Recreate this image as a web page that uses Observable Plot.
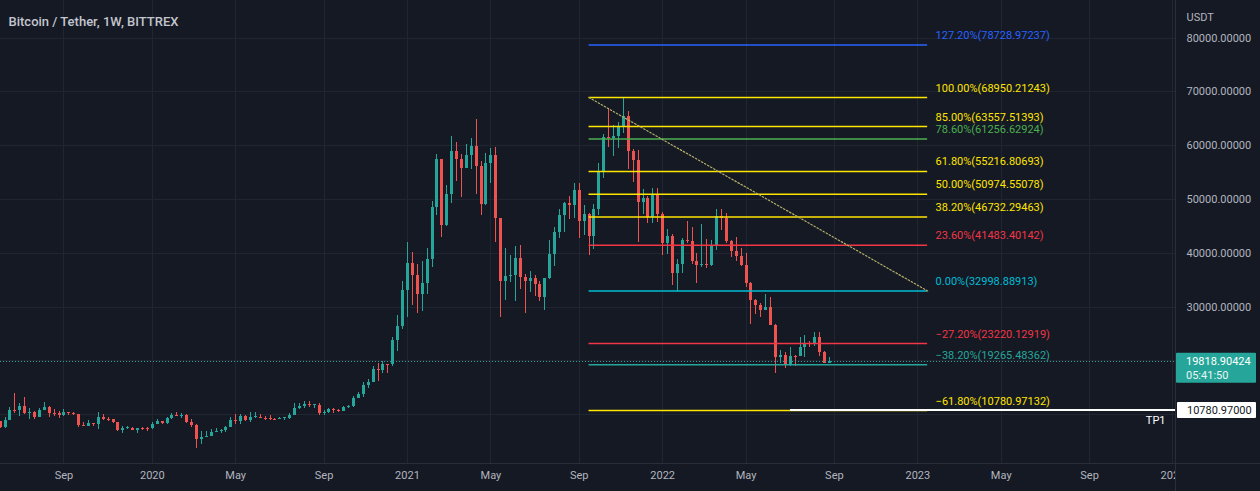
<!DOCTYPE html>
<html>
<head>
<meta charset="utf-8">
<script src="https://cdn.jsdelivr.net/npm/d3@7"></script>
<script src="https://cdn.jsdelivr.net/npm/@observablehq/plot@0.6"></script>
<style>
  html, body { margin: 0; padding: 0; background: #151924; }
  #chart { width: 1260px; height: 491px; overflow: hidden; }
</style>
</head>
<body>
<div id="chart"></div>
<script>
// ---------------- DATA ----------------
const title = "Bitcoin / Tether, 1W, BITTREX";
const quote = "USDT";
const firstWeek = "2019-06-03"; // first weekly bar (Monday)

const opens = [
  8740, 7640, 8980, 10860, 10820, 11460, 10200, 10330, 9500, 10820,
  11400, 10230, 10140, 9760, 10400, 10300, 10030, 8060, 7850, 8290,
  8230, 9550, 9200, 9040, 8500, 7050, 7500, 7520, 7060, 7510,
  7390, 7350, 8180, 8700, 8370, 9380, 9900, 9700, 9760, 8540,
  8030, 5360, 5820, 5880, 6780, 6900, 7120, 7700, 8900, 8720,
  9680, 8900, 9450, 9470, 9330, 9300, 9150, 9070, 9230, 9250,
  9940, 11070, 11590, 11850, 11660, 11710, 10280, 10330, 10940, 10770,
  10670, 11380, 11500, 13030, 13790, 15480, 15980, 18400, 18180, 19360,
  19270, 23740, 26440, 33000, 38150, 35800, 32260, 34300, 38900, 48600,
  57400, 45240, 50970, 59000, 57400, 55800, 58200, 59900, 56150, 49000,
  56600, 58250, 46400, 34700, 35700, 35800, 39000, 35500, 34700, 35300,
  34250, 31800, 35400, 39850, 43800, 47050, 49250, 48900, 51750, 45850,
  47250, 43200, 48200, 54950, 61500, 61300, 61800, 63300, 65500, 59000,
  57250, 49400, 50100, 46700, 50800, 47300, 41850, 43100, 36300, 37900,
  42400, 42200, 38400, 37700, 38000, 37800, 41300, 46800, 46400, 42150,
  40400, 39450, 37650, 34300, 31300, 30280, 29450, 29900, 26600, 20550,
  21030, 19300, 20850, 20800, 22580, 23300, 23180, 24300, 21520, 19550
];
const highs = [
  8800, 9390, 11250, 13880, 12000, 13200, 11100, 10650, 11080, 12330,
  11450, 10950, 10630, 10920, 10450, 10360, 10060, 8520, 8850, 8410,
  10370, 9950, 9500, 9080, 8520, 7850, 7800, 7680, 7520, 7700,
  7630, 8480, 9190, 8760, 9560, 10160, 10500, 10250, 9970, 9180,
  8180, 6900, 6950, 7200, 7470, 7200, 7780, 9460, 10070, 9950,
  9900, 10380, 10430, 10000, 9580, 9800, 9300, 9450, 9280, 10130,
  12000, 12050, 12480, 12480, 11800, 12100, 10800, 11180, 11180, 10950,
  11490, 11730, 13350, 14090, 15970, 16480, 18950, 19480, 19920, 19420,
  24300, 28420, 34800, 42000, 40100, 37850, 38550, 40950, 49700, 58350,
  57500, 52650, 61800, 60600, 58400, 60200, 61300, 64850, 57000, 58500,
  59500, 59600, 46500, 40800, 39500, 41300, 41400, 36000, 36600, 35950,
  34700, 35400, 42450, 44800, 48150, 49400, 50500, 52900, 52950, 48800,
  47350, 49000, 56600, 62000, 67000, 63700, 64300, 68950, 66300, 59300,
  59200, 51950, 50500, 52000, 52100, 47550, 44450, 43500, 38900, 42700,
  45850, 44750, 40000, 45400, 42600, 42300, 48200, 48200, 47450, 42400,
  42900, 40800, 40000, 34500, 31330, 30650, 32400, 31750, 26800, 21850,
  21550, 22500, 21000, 24280, 24700, 23650, 25200, 25200, 21800, 20580
];
const lows = [
  7450, 7510, 8970, 10300, 9650, 10070, 9070, 9110, 9390, 10800,
  9470, 9750, 9320, 9750, 9880, 9840, 7710, 7760, 7790, 7880,
  7300, 8970, 8700, 8350, 6800, 6510, 7160, 7050, 6430, 7150,
  6850, 7340, 8100, 8230, 8250, 9130, 9730, 9300, 8400, 7650,
  3780, 4440, 5690, 5860, 6660, 6460, 6770, 7620, 8100, 8200,
  8800, 8630, 9250, 9230, 8900, 8840, 8950, 9050, 9000, 9040,
  9900, 10950, 11100, 11370, 11130, 9880, 9850, 10200, 10140, 10370,
  10530, 11180, 11400, 12980, 13200, 14800, 15950, 16200, 17600, 17600,
  19000, 21800, 25900, 28100, 30300, 28800, 29200, 32300, 37350, 47000,
  43000, 44950, 49300, 53300, 50400, 55700, 55500, 51000, 47000, 48800,
  53000, 42000, 28000, 31200, 34600, 31000, 33300, 28800, 32700, 32000,
  31000, 29300, 35200, 37500, 42800, 43950, 46250, 46500, 42800, 43400,
  39600, 40750, 47100, 53900, 59600, 58000, 59400, 62300, 55600, 53250,
  42000, 47300, 45500, 45550, 45700, 39650, 39700, 34000, 32900, 36250,
  41750, 38000, 34300, 37450, 37150, 37550, 40500, 44200, 41900, 39200,
  38550, 37600, 33700, 26700, 28630, 28000, 29300, 26550, 17600, 19600,
  18650, 19050, 18900, 20750, 20700, 22400, 22650, 20760, 19530, 19530
];
const closes = [
  7640, 8980, 10860, 10820, 11460, 10200, 10330, 9500, 10820, 11400,
  10230, 10140, 9760, 10400, 10300, 10030, 8060, 7850, 8290, 8230,
  9550, 9200, 9040, 8500, 7050, 7500, 7520, 7060, 7510, 7390,
  7350, 8180, 8700, 8370, 9380, 9900, 9700, 9760, 8540, 8030,
  5360, 5820, 5880, 6780, 6900, 7120, 7700, 8900, 8720, 9680,
  8900, 9450, 9470, 9330, 9300, 9150, 9070, 9230, 9250, 9940,
  11070, 11590, 11850, 11660, 11710, 10280, 10330, 10940, 10770, 10670,
  11380, 11500, 13030, 13790, 15480, 15980, 18400, 18180, 19360, 19270,
  23740, 26440, 33000, 38150, 35800, 32260, 34300, 38900, 48600, 57400,
  45240, 50970, 59000, 57400, 55800, 58200, 59900, 56150, 49000, 56600,
  58250, 46400, 34700, 35700, 35800, 39000, 35500, 34700, 35300, 34250,
  31800, 35400, 39850, 43800, 47050, 49250, 48900, 51750, 45850, 47250,
  43200, 48200, 54950, 61500, 61300, 61800, 63300, 65500, 59000, 57250,
  49400, 50100, 46700, 50800, 47300, 41850, 43100, 36300, 37900, 42400,
  42200, 38400, 37700, 38000, 37800, 41300, 46800, 46400, 42150, 40400,
  39450, 37650, 34300, 31300, 30280, 29450, 29900, 26600, 20550, 21030,
  19300, 20850, 20800, 22580, 23300, 23180, 24300, 21520, 19550, 19818.90424
];

// Fibonacci retracement drawing
const fibStart = "2021-09-20";
const fibEnd = "2023-01-16";
const fibLevels = ["127.20%", "100.00%", "85.00%", "78.60%", "61.80%", "50.00%", "38.20%", "23.60%", "0.00%", "\u221227.20%", "\u221238.20%", "\u221261.80%"];
const fibPrices = [78728.97237, 68950.21243, 63557.51393, 61256.62924, 55216.80693, 50974.55078, 46732.29463, 41483.40142, 32998.88913, 23220.12919, 19265.48362, 10780.97132];
const fibPriceText = ["78728.97237", "68950.21243", "63557.51393", "61256.62924", "55216.80693", "50974.55078", "46732.29463", "41483.40142", "32998.88913", "23220.12919", "19265.48362", "10780.97132"];
const fibColors = ["#2962ff", "#ffe500", "#ffe500", "#4caf50", "#ffe500", "#ffe500", "#ffe500", "#f23645", "#00bcd4", "#f23645", "#26a69a", "#ffe500"];

// TP1 horizontal ray
const tp1Start = "2022-07-04";
const tp1Price = 10780.97;
const tp1Text = "10780.97000";
const tp1Label = "TP1";

// last price
const currentPrice = 19818.90424;
const currentText = "19818.90424";
const countdown = "05:41:50";

// axes
const yTicks = [30000, 40000, 50000, 60000, 70000, 80000];
const gridPrices = [10000, 20000, 30000, 40000, 50000, 60000, 70000, 80000];
const tickDates = ["2019-09-02", "2020-01-06", "2020-05-04", "2020-09-07", "2021-01-04", "2021-05-03", "2021-09-06", "2022-01-03", "2022-05-02", "2022-09-05", "2023-01-02", "2023-05-01", "2023-09-04", "2024-01-01"];
const tickLabels = ["Sep", "2020", "May", "Sep", "2021", "May", "Sep", "2022", "May", "Sep", "2023", "May", "Sep", "2024"];

// ---------------- BUILD ----------------
const W = 1260, H = 491, MR = 85, MB = 28;
const bg = "#151924", gridColor = "#212531", textColor = "#b2b5be";
const upColor = "#26a69a", downColor = "#ef5350";
const font = "Roboto, 'Liberation Sans', sans-serif";

const toDate = s => new Date(s + "T00:00:00Z");
const xDomain = [new Date("2019-06-03T10:48:00Z"), new Date("2024-01-04T14:24:00Z")];
const yDomain = [929, 86990];

const t0 = toDate(firstWeek);
const candles = opens.map((o, i) => ({
  date: d3.utcDay.offset(t0, 7 * i),
  open: o, high: highs[i], low: lows[i], close: closes[i]
}));
const up = candles.filter(d => d.close >= d.open);
const down = candles.filter(d => d.close < d.open);
const minBody = 190; // ~1px minimum body
const bodyEnd = d => Math.abs(d.close - d.open) < minBody ? d.open + (d.close >= d.open ? minBody : -minBody) : d.close;

const fibRows = fibLevels.map((lv, i) => ({
  level: lv, price: fibPrices[i], text: fibPriceText[i], color: fibColors[i],
  start: toDate(fibStart), end: toDate(fibEnd)
}));
const trend = [
  {date: toDate(fibStart), price: fibPrices[1]},
  {date: toDate(fibEnd), price: fibPrices[8]}
];
const tpRows = [{price: tp1Price, start: toDate(tp1Start), end: xDomain[1]}];

const tickDateObjs = tickDates.map(toDate);
const tickLabelMap = new Map(tickDateObjs.map((d, i) => [+d, tickLabels[i]]));

const crisp = {shapeRendering: "crispEdges"};

const plot = Plot.plot({
  width: W, height: H,
  marginLeft: 0, marginRight: MR, marginTop: 0, marginBottom: MB,
  style: {background: bg, color: textColor, fontFamily: font, fontSize: "11px", overflow: "hidden"},
  color: {type: "identity"},
  x: {type: "utc", domain: xDomain, ticks: tickDateObjs, tickFormat: d => tickLabelMap.get(+d), tickSize: 0, tickPadding: 8, label: null},
  y: {domain: yDomain, axis: "right", ticks: yTicks, tickFormat: d3.format(".5f"), tickSize: 0, tickPadding: 11, label: null},
  marks: [
    Plot.ruleY(gridPrices, {stroke: gridColor, ...crisp}),
    Plot.ruleX(tickDateObjs, {stroke: gridColor, ...crisp}),
    // candles
    Plot.ruleX(up, {x: "date", y1: "low", y2: "high", stroke: upColor, strokeWidth: 1, ...crisp}),
    Plot.ruleX(up, {x: "date", y1: "open", y2: bodyEnd, stroke: upColor, strokeWidth: 3, ...crisp}),
    Plot.ruleX(down, {x: "date", y1: "low", y2: "high", stroke: downColor, strokeWidth: 1, ...crisp}),
    Plot.ruleX(down, {x: "date", y1: "open", y2: bodyEnd, stroke: downColor, strokeWidth: 3, ...crisp}),
    // last price line
    Plot.ruleY([currentPrice], {stroke: upColor, strokeDasharray: "1,2", strokeWidth: 1, ...crisp}),
    // fib
    Plot.ruleY(fibRows, {y: "price", x1: "start", x2: "end", stroke: "color", strokeWidth: 1.5}),
    Plot.line(trend, {x: "date", y: "price", stroke: "#b3b06a", strokeDasharray: "1.5,2", strokeWidth: 1.2}),
    Plot.text(fibRows, {x: "end", y: "price", text: d => `${d.level}(${d.text})`, fill: "color", dx: 8, dy: -9.5, textAnchor: "start", fontSize: 11}),
    // TP1 ray
    Plot.ruleY(tpRows, {y: "price", x1: "start", x2: "end", stroke: "#ffffff", strokeWidth: 2, ...crisp}),
    Plot.text(tpRows, {x: "end", y: "price", text: () => tp1Label, fill: "#ffffff", dx: -10, dy: 10, textAnchor: "end", fontSize: 11}),
    // title & currency
    Plot.text([title], {text: d => d, frameAnchor: "top-left", dx: 8, dy: 16, textAnchor: "start", fill: "#c3c6ce", fontSize: 13, fontWeight: 500}),
    Plot.text([quote], {text: d => d, frameAnchor: "top-right", dx: 11, dy: 13, textAnchor: "start", fill: textColor, fontSize: 11})
  ]
});

document.getElementById("chart").appendChild(plot);

// ---- price-scale chrome (positions from Plot's own y scale) ----
const svg = d3.select(plot);
const ys = plot.scale("y");
const frameRight = W - MR;

// clip x-axis labels to the plotting pane
svg.insert("defs", ":first-child").append("clipPath").attr("id", "paneClip")
  .append("rect").attr("x", 0).attr("y", 0).attr("width", frameRight).attr("height", H);
svg.selectAll('[aria-label^="x-axis"]').attr("clip-path", "url(#paneClip)");

const chrome = svg.append("g").attr("font-family", font).attr("font-size", 11).attr("text-anchor", "start");
chrome.append("line").attr("x1", 0).attr("x2", W).attr("y1", H - MB + 0.5).attr("y2", H - MB + 0.5).attr("stroke", "#2a2e39");
chrome.append("line").attr("x1", frameRight + 0.5).attr("x2", frameRight + 0.5).attr("y1", 0).attr("y2", H).attr("stroke", "#2a2e39");

const yc = ys.apply(currentPrice);
chrome.append("rect").attr("x", frameRight + 1).attr("y", yc - 8.5).attr("width", 80).attr("height", 30).attr("fill", upColor).attr("rx", 1);
chrome.append("text").attr("x", frameRight + 11).attr("y", yc).attr("dy", "0.35em").attr("fill", "#ffffff").text(currentText);
chrome.append("text").attr("x", frameRight + 11).attr("y", yc + 13.5).attr("dy", "0.35em").attr("fill", "#e8f5f3").text(countdown);

const yt = ys.apply(tp1Price);
chrome.append("rect").attr("x", frameRight + 2).attr("y", yt - 8).attr("width", 79).attr("height", 16).attr("fill", "#ffffff").attr("rx", 1);
chrome.append("text").attr("x", frameRight + 12).attr("y", yt).attr("dy", "0.35em").attr("fill", "#131722").text(tp1Text);
</script>
</body>
</html>
